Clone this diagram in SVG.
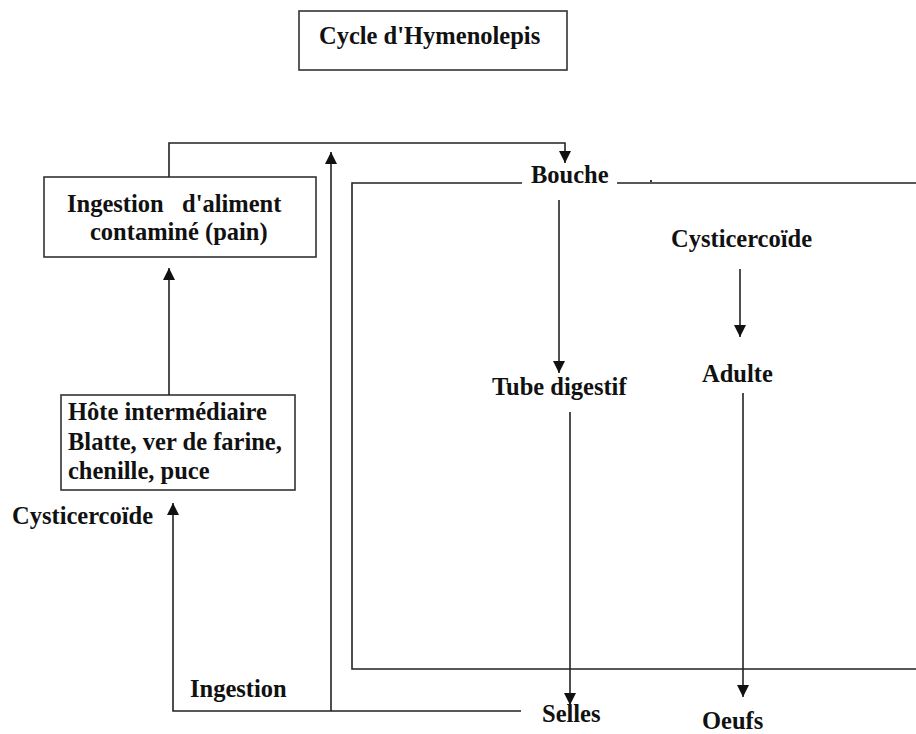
<svg xmlns="http://www.w3.org/2000/svg" width="916" height="734" viewBox="0 0 916 734">
  <style>
    .box { fill: #fff; stroke: #333; stroke-width: 1.6; }
    .ln { fill: none; stroke: #222; stroke-width: 1.6; }
    .t { font-family: "Liberation Serif", "Times New Roman", serif; font-weight: bold; font-size: 24.5px; fill: #111; white-space: pre; }
  </style>
  <defs>
    <marker id="ah" markerUnits="userSpaceOnUse" markerWidth="12" markerHeight="14" refX="12" refY="6" orient="auto">
      <path d="M0,0 L12,6 L0,12 Z" fill="#111"/>
    </marker>
  </defs>

  <rect width="916" height="734" fill="#fff"/>

  <g id="title">
    <rect class="box" x="299" y="11" width="268" height="59"/>
    <text class="t" x="319" y="44">Cycle d'Hymenolepis</text>
  </g>

  <g id="ingestion-aliment">
    <rect class="box" x="44" y="177" width="272" height="80"/>
    <text class="t" x="67" y="212" xml:space="preserve">Ingestion   d'aliment</text>
    <text class="t" x="90" y="240">contaminé (pain)</text>
  </g>

  <g id="hote-intermediaire">
    <rect class="box" x="61" y="395" width="234" height="95"/>
    <text class="t" x="68" y="420">Hôte intermédiaire</text>
    <text class="t" x="68" y="450">Blatte, ver de farine,</text>
    <text class="t" x="68" y="479">chenille, puce</text>
  </g>

  <g id="cysticercoide-externe">
    <text class="t" x="12" y="524">Cysticercoïde</text>
  </g>
  <g id="ingestion">
    <text class="t" x="190" y="697">Ingestion</text>
  </g>
  <g id="bouche">
    <text class="t" x="531" y="183">Bouche</text>
  </g>
  <g id="tube-digestif">
    <text class="t" x="492" y="395">Tube digestif</text>
  </g>
  <g id="cysticercoide-interne">
    <text class="t" x="671" y="247">Cysticercoïde</text>
  </g>
  <g id="adulte">
    <text class="t" x="702" y="382">Adulte</text>
  </g>
  <g id="selles">
    <text class="t" x="542" y="722">Selles</text>
  </g>
  <g id="oeufs">
    <text class="t" x="702" y="729">Oeufs</text>
  </g>

  <g id="connectors">
    <!-- host body outline -->
    <path class="ln" d="M522,183 H352 V669 H916 M617,183 H916"/>
    <rect x="650" y="180" width="2" height="2" fill="#333"/>
    <!-- food back to mouth -->
    <path class="ln" d="M169,177 V143 H565 V163" marker-end="url(#ah)"/>
    <!-- faeces back up -->
    <path class="ln" d="M331,711 V152" marker-end="url(#ah)"/>
    <path class="ln" d="M521,711 H173 V503" marker-end="url(#ah)"/>
    <!-- intermediate host to food -->
    <path class="ln" d="M169,395 V268" marker-end="url(#ah)"/>
    <!-- digestive route -->
    <path class="ln" d="M559,200 V373" marker-end="url(#ah)"/>
    <path class="ln" d="M570,412 V705" marker-end="url(#ah)"/>
    <!-- worm development -->
    <path class="ln" d="M740,269 V337" marker-end="url(#ah)"/>
    <path class="ln" d="M743,393 V697" marker-end="url(#ah)"/>
  </g>
</svg>
